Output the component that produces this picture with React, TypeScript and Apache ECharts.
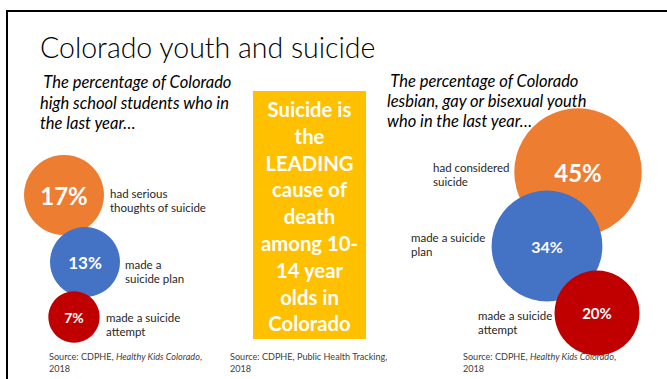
import React, { useEffect, useRef } from "react";
import * as echarts from "echarts";

const titleText = "Colorado youth and suicide";
const leftSubtitle = " The percentage of Colorado\nhigh school students who in\nthe last year…";
const rightSubtitle = " The percentage of Colorado\nlesbian, gay or bisexual youth\nwho in the last year…";
const boxLines = ["Suicide is", "the", "LEADING", "cause of", "death", "among 10-", "14 year", "olds in", "Colorado"];

const leftValues = [17, 13, 7];
const leftLabels = ["had serious\nthoughts of suicide", "made a\nsuicide plan", "made a suicide\nattempt"];
const rightValues = [45, 34, 20];
const rightLabels = ["had considered\nsuicide", "made a suicide\nplan", "made a suicide\nattempt"];

const colors = ["#ED7D31", "#4472C4", "#C00000"];

// layout (bubble centres in page pixels) and style
const leftPos = [[64, 195], [85, 262], [74, 317]];
const rightPos = [[578, 172], [547, 246], [597, 313]];
const leftLabelPos = [[110, 193], [125, 264], [106, 317]];
const rightLabelPos = [[433, 167], [411, 237], [478, 315]];
const leftPctSize = [24, 17, 14];
const rightPctSize = [24, 16, 15];

const FONT = "Lato, 'Open Sans', sans-serif";

export default function App() {
  const ref = useRef<HTMLDivElement>(null);
  useEffect(() => {
    if (!ref.current) return;
    document.body.style.margin = "0";
    document.body.style.overflow = "hidden";
    const chart = echarts.init(ref.current, null, { renderer: "svg" });

    const bubbleData = (vals: number[], pos: number[][], sizes: number[]) =>
      vals.map((v, i) => ({
        value: [pos[i][0], pos[i][1], v],
        itemStyle: { color: colors[i], opacity: 1 },
        label: { fontSize: sizes[i] },
      }));

    const sideLabels = (labels: string[], pos: number[][]) =>
      labels.map((t, i) => ({
        type: "text",
        x: pos[i][0],
        y: pos[i][1] - 7.25,
        style: {
          text: t,
          fontSize: 11.5,
          lineHeight: 14.5,
          fontFamily: FONT,
          fill: "#262626",
          textVerticalAlign: "top",
        },
        z: 100,
      }));

    const source = (x: number, italicPart: string | null, rest: string) => ({
      type: "text",
      x,
      y: 350,
      style: {
        text: italicPart
          ? `{a|Source: CDPHE, }{i|${italicPart}}{a|,}\n{a|2018}`
          : `{a|${rest}}\n{a|2018}`,
        rich: {
          a: { fontSize: 9.1, fontFamily: FONT, fill: "#404040", lineHeight: 12 },
          i: { fontSize: 9.1, fontFamily: FONT, fill: "#404040", fontStyle: "italic", lineHeight: 12 },
        },
        textVerticalAlign: "top",
      },
    });

    const option: any = {
      animation: false,
      backgroundColor: "#ffffff",
      grid: { left: 0, right: 0, top: 0, bottom: 0 },
      xAxis: { type: "value", min: 0, max: 667, show: false },
      yAxis: { type: "value", min: 0, max: 379, inverse: true, show: false },
      series: [
        {
          type: "scatter",
          data: bubbleData(leftValues, leftPos, leftPctSize),
          symbolSize: (d: number[]) => 2 * Math.sqrt(d[2]) * 9.7,
          label: {
            show: true,
            position: "inside",
            color: "#fff",
            fontWeight: "bold",
            fontFamily: FONT,
            formatter: (p: any) => p.value[2] + "%",
          },
          emphasis: { disabled: true },
        },
        {
          type: "scatter",
          data: bubbleData(rightValues, rightPos, rightPctSize),
          symbolSize: (d: number[]) => 2 * Math.sqrt(d[2]) * 9.5,
          label: {
            show: true,
            position: "inside",
            color: "#fff",
            fontWeight: "bold",
            fontFamily: FONT,
            formatter: (p: any) => p.value[2] + "%",
          },
          emphasis: { disabled: true },
        },
      ],
      graphic: [
        { type: "line", shape: { x1: 6, y1: 11, x2: 667, y2: 11 }, style: { stroke: "#000", lineWidth: 2 } },
        { type: "line", shape: { x1: 7, y1: 10, x2: 7, y2: 379 }, style: { stroke: "#000", lineWidth: 2 } },
        {
          type: "text",
          x: 40,
          y: 47,
          style: {
            text: titleText,
            fontSize: 28.5,
            fontWeight: 300,
            fontFamily: FONT,
            fill: "#000",
            textVerticalAlign: "middle",
          },
        },
        {
          type: "text",
          x: 40,
          y: 72,
          style: {
            text: leftSubtitle,
            fontSize: 16.5,
            lineHeight: 20.5,
            fontStyle: "italic",
            fontFamily: FONT,
            fill: "#000",
            textVerticalAlign: "top",
          },
        },
        {
          type: "text",
          x: 387,
          y: 71,
          style: {
            text: rightSubtitle,
            fontSize: 16.5,
            lineHeight: 20,
            fontStyle: "italic",
            fontFamily: FONT,
            fill: "#000",
            textVerticalAlign: "top",
          },
        },
        {
          type: "rect",
          shape: { x: 253, y: 91, width: 113, height: 248 },
          style: { fill: "#FFC000" },
        },
        {
          type: "text",
          x: 309.5,
          y: 95.6,
          style: {
            text: boxLines.join("\n"),
            fontSize: 20.3,
            lineHeight: 26.8,
            fontWeight: "bold",
            fontFamily: FONT,
            fill: "#fff",
            align: "center",
            textAlign: "center",
            textVerticalAlign: "top",
          },
        },
        ...sideLabels(leftLabels, leftLabelPos),
        ...sideLabels(rightLabels, rightLabelPos),
        source(49, "Healthy Kids Colorado", ""),
        source(230, null, "Source: CDPHE, Public Health Tracking,"),
        source(463, "Healthy Kids Colorado", ""),
      ],
    };
    chart.setOption(option);
    return () => chart.dispose();
  }, []);
  return (
    <div
      ref={ref}
      style={{ position: "absolute", left: 0, top: 0, width: 667, height: 379 }}
    />
  );
}
